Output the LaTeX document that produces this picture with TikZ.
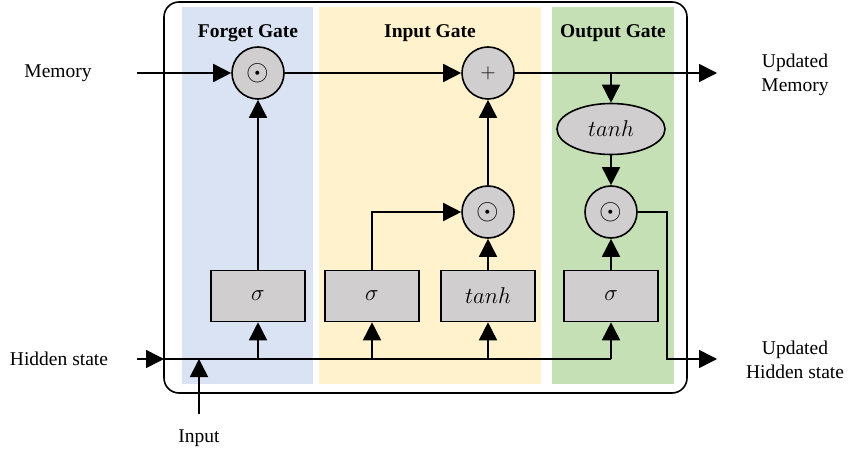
\documentclass[tikz,border=0pt]{standalone}
\usepackage{fontspec}
\setmainfont{Liberation Serif}
\usepackage{tikz}
\usetikzlibrary{shapes.geometric, arrows.meta, positioning, calc}
\definecolor{forgetbg}{RGB}{218, 227, 243}
\definecolor{inputbg}{RGB}{255, 242, 204}
\definecolor{outputbg}{RGB}{197, 224, 180}
\definecolor{opgray}{RGB}{208, 206, 206}
\newcommand{\hadamard}{\scalebox{1.4}{$\odot$}}
\newcommand{\actlabel}[1]{\scalebox{1.1}{$#1$}}

\begin{document}
\begin{tikzpicture}[x=1pt, y=-1pt,
    font=\fontsize{19.5}{24}\selectfont,
    wire/.style={line width=1.6pt},
    arr/.style={wire, -{Triangle[length=18pt, width=18pt]}},
    opcirc/.style={circle, draw, line width=1.6pt, fill=opgray, minimum size=52pt, inner sep=0pt},
    actbox/.style={rectangle, draw, line width=1.6pt, fill=opgray, minimum width=94pt, minimum height=51pt},
    gatetitle/.style={font=\fontsize{19.5}{24}\selectfont\bfseries},
    sidetext/.style={align=center}]
  \useasboundingbox (0,0) rectangle (848,454);

  % Gate panels
  \fill[forgetbg] (182,7) rectangle (313,384);
  \fill[inputbg] (319,7) rectangle (541,384);
  \fill[outputbg] (552,7) rectangle (674,384);
  \draw[wire, rounded corners=15pt] (164,2) rectangle (687,393);

  \node[gatetitle] (tforget) at (248,33) {Forget Gate};
  \node[gatetitle] (tinput) at (430,33) {Input Gate};
  \node[gatetitle] (toutput) at (613,33) {Output Gate};

  % Operators
  \node[opcirc] (fmul) at (258,73) {\hadamard};
  \node[opcirc] (add) at (488,73) {$+$};
  \node[opcirc] (imul) at (488,212) {\hadamard};
  \node[opcirc] (omul) at (611,212) {\hadamard};
  \node[ellipse, draw, line width=1.6pt, fill=opgray, minimum width=108pt, minimum height=51pt, inner sep=0pt] (otanh) at (611,129) {\actlabel{tanh}};

  % Activations
  \node[actbox] (fsig) at (258,296) {\actlabel{\sigma}};
  \node[actbox] (isig) at (372,296) {\actlabel{\sigma}};
  \node[actbox] (itanh) at (488,296) {\actlabel{tanh}};
  \node[actbox] (osig) at (611,296) {\actlabel{\sigma}};

  % Outside labels
  \node[sidetext] (mem) at (58,73) {Memory};
  \node[sidetext] (hid) at (59,359) {Hidden state};
  \node[sidetext] (inp) at (199,438) {Input};
  \node[sidetext] (updmem) at (795,75) {Updated\\Memory};
  \node[sidetext] (updhid) at (795,360) {Updated\\Hidden state};

  \coordinate (memin) at (137,73);
  \coordinate (memout) at (717,73);
  \coordinate (hidin) at (137,359);
  \coordinate (hidbus) at (164,359);
  \coordinate (hidend) at (611,359);
  \coordinate (inpfoot) at (199,414);
  \coordinate (hidturn) at (667,359);
  \coordinate (hidout) at (717,359);

  % Memory path
  \draw[arr] (memin) -- (fmul);
  \draw[arr] (fmul) -- (add);
  \draw[arr] (add) -- (memout);
  \draw[arr] (otanh |- add) -- (otanh);
  \draw[arr] (otanh) -- (omul);
  \draw[arr] (omul) -| (hidturn) -- (hidout);

  % Hidden state and input
  \draw[arr] (hidin) -- (hidbus);
  \draw[wire] (hidbus) -- (hidend);
  \draw[arr] (inpfoot) -- (inpfoot |- hidbus);
  \draw[arr] (fsig |- hidbus) -- (fsig);
  \draw[arr] (isig |- hidbus) -- (isig);
  \draw[arr] (itanh |- hidbus) -- (itanh);
  \draw[arr] (osig |- hidbus) -- (osig);

  % Gate outputs
  \draw[arr] (fsig) -- (fmul);
  \draw[arr] (isig) |- (imul);
  \draw[arr] (itanh) -- (imul);
  \draw[arr] (imul) -- (add);
  \draw[arr] (osig) -- (omul);
\end{tikzpicture}
\end{document}
